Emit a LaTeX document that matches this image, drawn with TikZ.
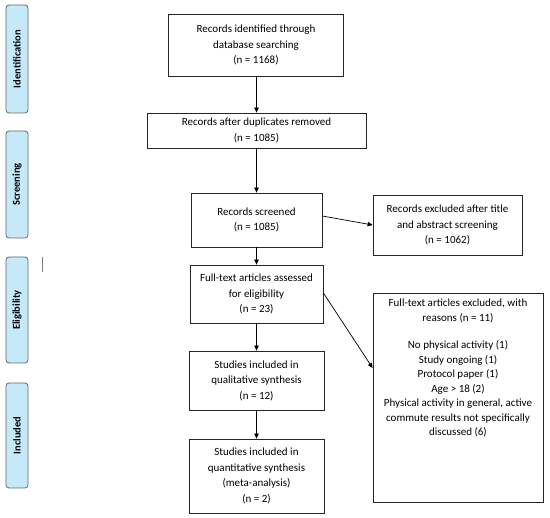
\documentclass[tikz,border=0pt]{standalone}
\usepackage{fontspec}
\setmainfont{Carlito}
\usetikzlibrary{arrows.meta,calc}
\begin{document}
\begin{tikzpicture}[x=1pt,y=-1pt,
  box/.style={draw=black!85,line width=0.8pt,align=center,inner sep=2pt,font=\fontsize{11}{15.5}\selectfont},
  side/.style={draw=black!60,line width=0.8pt,fill=sidefill,rounded corners=3pt,minimum height=22pt,rotate=90,font=\fontsize{10.5}{12}\selectfont\bfseries},
  arr/.style={line width=0.7pt,-{Triangle[length=5pt,width=4.5pt]}}]
\definecolor{sidefill}{RGB}{198,233,250}
\useasboundingbox (0,0) rectangle (550,518);
% phase labels
\node[side,minimum width=108pt] (id) at (17,59) {Identification};
\node[side,minimum width=107pt] (sc) at (17,184.5) {Screening};
\node[side,minimum width=106pt] (el) at (17,310) {Eligibility};
\node[side,minimum width=105pt] (in) at (17,435.5) {Included};
\coordinate (t1) at (42,257);
\coordinate (t2) at (42,272);
\draw[black!50,line width=0.6pt] (t1) -- (t2);
% boxes
\node[box,minimum width=175pt,minimum height=62pt] (b1) at (256,45) {Records identified through\\database searching\\(n = 1168)};
\node[box,minimum width=219pt,minimum height=35pt] (b2) at (256.5,130.5) {Records after duplicates removed\\(n = 1085)};
\node[box,minimum width=131pt,minimum height=54pt] (b3) at (256.5,220) {Records screened\\(n = 1085)};
\node[box,minimum width=149pt,minimum height=60pt] (x1) at (447.5,225) {Records excluded after title\\and abstract screening\\(n = 1062)};
\node[box,minimum width=133pt,minimum height=58pt] (b4) at (256.5,294) {Full-text articles assessed\\for eligibility\\(n = 23)};
\node[box,minimum width=170pt,minimum height=209pt] (x2) at (458,397.5) {};
\node[align=center,anchor=north,inner sep=0pt,font=\fontsize{11}{14.5}\selectfont] (x2t) at (458,299) {Full-text articles excluded, with\\reasons (n = 11)\\[13pt]No physical activity (1)\\Study ongoing (1)\\Protocol paper (1)\\Age > 18 (2)\\Physical activity in general, active\\commute results not specifically\\discussed (6)};
\node[box,minimum width=135pt,minimum height=59pt] (b5) at (256.5,380.5) {Studies included in\\qualitative synthesis\\(n = 12)};
\node[box,minimum width=135pt,minimum height=74pt] (b6) at (256.5,476) {Studies included in\\quantitative synthesis\\(meta-analysis)\\(n = 2)};
% arrows
\draw[arr] (b1.south -| b2.north) -- (b2.north);
\draw[arr] (b2) -- (b3);
\draw[arr] ($(b3.east)+(0,-4)$) -- (x1.west);
\draw[arr] (b3) -- (b4);
\draw[arr] ($(b4.east)+(0,-1)$) -- ($(x2.west)+(0,-29.5)$);
\draw[arr] (b4) -- (b5);
\draw[arr] (b5) -- (b6);
\end{tikzpicture}
\end{document}
